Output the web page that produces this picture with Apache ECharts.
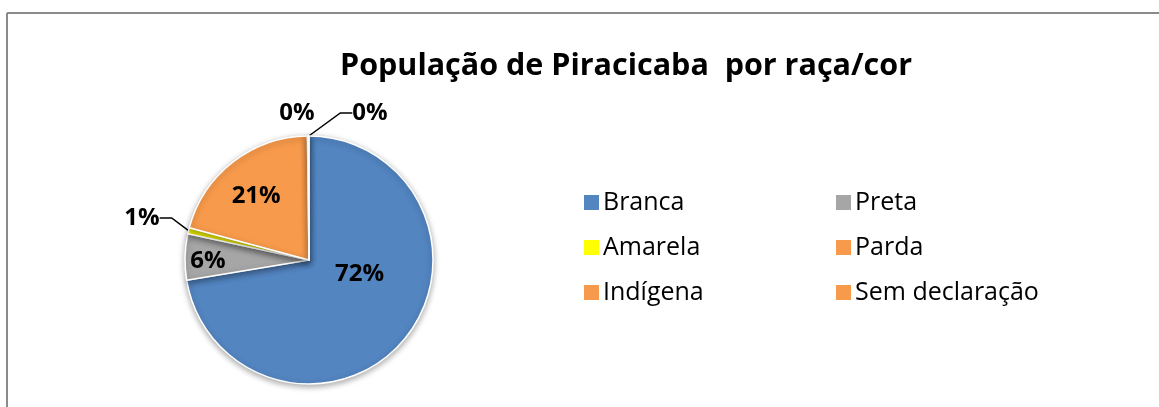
<!DOCTYPE html>
<html>
<head>
<meta charset="utf-8">
<script src="https://cdn.jsdelivr.net/npm/echarts@6/dist/echarts.min.js"></script>
<style>
  html, body { margin: 0; padding: 0; background: #fff; }
  #main { width: 1159px; height: 407px; }
</style>
</head>
<body>
<div id="main"></div>
<script>
var categories = ['Branca', 'Preta', 'Amarela', 'Parda', 'Indígena', 'Sem declaração'];
var shares = [72.4, 6.0, 0.8, 20.6, 0.15, 0.05];
var colors = ['#5385C1', '#A6A6A6', '#FFFF00', '#F79A4B', '#F79A4B', '#F79A4B'];
var insideLabels = [true, true, false, true, false, false];

// label tweaks to mimic the excel placement (by data index)
var labelShift = {
  0: { dx: 1, dy: -28 },
  1: { dx: -36, dy: 3 },
  3: { dx: -13, dy: -12 },
  2: { x: 142, y: 218, align: 'center', verticalAlign: 'middle' },
  4: { x: 297, y: 113, align: 'center', verticalAlign: 'middle' },
  5: { x: 370, y: 113, align: 'center', verticalAlign: 'middle' }
};

var pieData = categories.map(function (name, i) {
  return {
    name: name,
    value: shares[i],
    itemStyle: { color: colors[i] },
    label: { position: insideLabels[i] ? 'inside' : 'outside' },
    labelLine: { show: !insideLabels[i] && i !== 4 }
  };
});

var myChart = echarts.init(document.getElementById('main'));
myChart.setOption({
  animation: false,
  title: {
    text: 'População de Piracicaba  por raça/cor',
    left: 621,
    textAlign: 'center',
    top: 46,
    textStyle: {
      fontFamily: 'Open Sans',
      fontWeight: 'bold',
      fontSize: 30.5,
      color: '#000'
    }
  },
  graphic: [
    { type: 'line', shape: { x1: 7, y1: 13, x2: 1159, y2: 13 }, style: { stroke: '#8a8a8a', lineWidth: 2 } },
    { type: 'line', shape: { x1: 7, y1: 13, x2: 7, y2: 407 }, style: { stroke: '#8a8a8a', lineWidth: 2 } }
  ],
  legend: [
    {
      orient: 'vertical',
      left: 577,
      top: 185,
      itemWidth: 17,
      itemHeight: 17,
      itemGap: 20,
      icon: 'rect',
      data: ['Branca', 'Amarela', 'Indígena'],
      textStyle: { fontFamily: 'Open Sans', fontSize: 25, color: '#000', padding: [0, 0, 0, -2] }
    },
    {
      orient: 'vertical',
      left: 829,
      top: 185,
      itemWidth: 17,
      itemHeight: 17,
      itemGap: 20,
      icon: 'rect',
      data: ['Preta', 'Parda', 'Sem declaração'],
      textStyle: { fontFamily: 'Open Sans', fontSize: 25, color: '#000', padding: [0, 0, 0, -2] }
    }
  ],
  series: [
    {
      name: 'raça/cor',
      type: 'pie',
      center: [309, 260],
      radius: [0, 124],
      startAngle: 90,
      clockwise: true,
      avoidLabelOverlap: false,
      itemStyle: {
        borderColor: '#fff',
        borderWidth: 1.5,
        shadowBlur: 6,
        shadowOffsetY: 2,
        shadowColor: 'rgba(0,0,0,0.35)'
      },
      label: {
        formatter: function (p) { return Math.round(p.percent) + '%'; },
        fontFamily: 'Open Sans',
        fontWeight: 'bold',
        fontSize: 24,
        color: '#000'
      },
      labelLine: {
        length: 8,
        length2: 12,
        lineStyle: { color: '#000', width: 1.5 }
      },
      labelLayout: function (params) {
        return labelShift[params.dataIndex] || {};
      },
      data: pieData
    }
  ]
});
</script>
</body>
</html>
